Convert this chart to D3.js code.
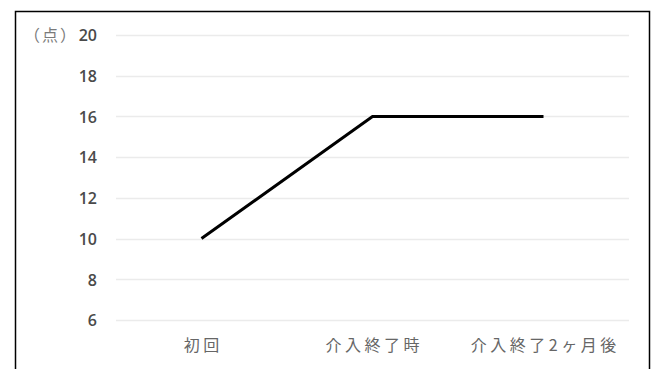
<!DOCTYPE html>
<html>
<head>
<meta charset="utf-8">
<script src="https://cdn.jsdelivr.net/npm/d3@7"></script>
<style>
  body { margin: 0; background: #fff; }
  svg { display: block; }
</style>
</head>
<body>
<div id="chart"></div>
<script>
// data
const categories = ['初回', '介入終了時', '介入終了2ヶ月後'];
const scores = [10, 16, 16];
const yTicks = [6, 8, 10, 12, 14, 16, 18, 20];
const yUnit = '（点）';

const W = 656, H = 369;
const margin = { top: 35, right: 27, bottom: 49, left: 116 };
const width = W - margin.left - margin.right;
const height = H - margin.top - margin.bottom;

const svg = d3.select('#chart').append('svg')
    .attr('width', W)
    .attr('height', H);

// outer frame (bottom edge is cut off by the picture)
svg.append('path')
    .attr('d', `M15.5,${H + 2}V11.5H649.5V${H + 2}`)
    .attr('fill', 'none')
    .attr('stroke', '#000')
    .attr('stroke-width', 1.5);

const g = svg.append('g')
    .attr('transform', `translate(${margin.left},${margin.top})`);

const x = d3.scaleBand().domain(categories).range([0, width]);
const y = d3.scaleLinear().domain([6, 20]).range([height, 0]);

// gridlines
g.selectAll('.grid')
    .data(yTicks)
    .enter().append('line')
    .attr('x1', 0)
    .attr('x2', width)
    .attr('y1', d => Math.round(y(d)) + 0.5)
    .attr('y2', d => Math.round(y(d)) + 0.5)
    .attr('stroke', '#ebebeb')
    .attr('stroke-width', 1.5);

// y axis
const yAxis = g.append('g')
    .call(d3.axisLeft(y).tickValues(yTicks).tickSize(0).tickPadding(19));
yAxis.select('.domain').remove();
yAxis.selectAll('text')
    .attr('dy', '0.36em')
    .style('font-family', '"Open Sans", sans-serif')
    .style('font-size', '16px')
    .style('font-weight', '600')
    .style('fill', '#4a4a4a');

svg.append('text')
    .attr('x', 24)
    .attr('y', margin.top + 6)
    .style('font-family', '"Noto Sans CJK JP", sans-serif')
    .style('font-size', '16px')
    .style('letter-spacing', '2px')
    .style('fill', '#7a7a7a')
    .text(yUnit);

// x axis
const xAxis = g.append('g')
    .attr('transform', `translate(0,${height})`)
    .call(d3.axisBottom(x).tickSize(0).tickPadding(20));
xAxis.select('.domain').remove();
xAxis.selectAll('text')
    .attr('dx', '1.75px')
    .style('font-family', '"Noto Sans CJK JP", sans-serif')
    .style('font-size', '16px')
    .style('letter-spacing', '3.5px')
    .style('fill', '#666');

// line
const line = d3.line()
    .x((d, i) => x(categories[i]) + x.bandwidth() / 2)
    .y(d => y(d));

g.append('path')
    .datum(scores)
    .attr('d', line)
    .attr('fill', 'none')
    .attr('stroke', '#000')
    .attr('stroke-width', 3);
</script>
</body>
</html>
